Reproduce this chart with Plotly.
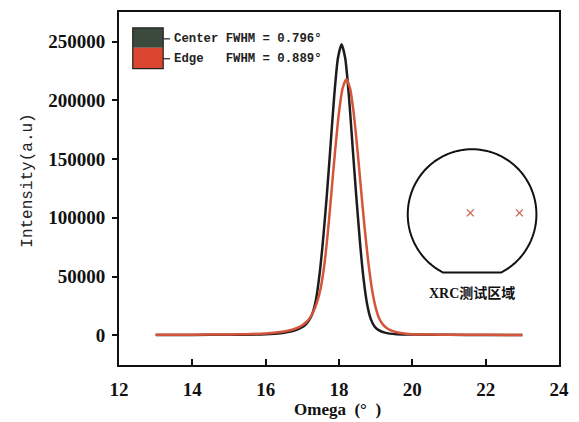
import numpy as np
import plotly.graph_objects as go

# ---- data ----
center_x = [13.00, 14.00, 15.00, 15.50, 16.00, 16.40, 16.60, 16.80, 16.94, 17.07, 17.17, 17.27,
            17.37, 17.47, 17.57, 17.67, 17.77, 17.87, 17.97, 18.07, 18.17, 18.27, 18.37, 18.47,
            18.57, 18.67, 18.77, 18.87, 18.97, 19.07, 19.27, 19.57, 20.00, 21.00, 22.00, 23.00]
center_y = [200, 250, 350, 450, 800, 1600, 2600, 4200, 6000, 8500, 12000, 18000,
            30000, 52000, 83000, 120000, 162000, 204000, 236000, 248000, 236000, 204000, 161000, 119000,
            80000, 48000, 26000, 13500, 7500, 4500, 2000, 900, 500, 300, 250, 200]

edge_x = [13.0, 14.0, 15.0, 15.5, 16.0, 16.4, 16.6, 16.8, 17.0, 17.1, 17.2, 17.3, 17.4, 17.5,
          17.6, 17.7, 17.8, 17.9, 18.0, 18.1, 18.2, 18.3, 18.4, 18.5, 18.6, 18.7, 18.8, 18.9,
          19.0, 19.1, 19.2, 19.3, 19.4, 19.6, 19.9, 20.5, 21.0, 22.0, 23.0]
edge_y = [300, 400, 600, 900, 1500, 2700, 3800, 5500, 8500, 11000, 14500, 20000, 28000, 40000,
          60000, 89000, 124000, 159000, 190000, 210500, 218000, 210500, 189500, 159000, 124500, 91000, 62000, 39000,
          23500, 14000, 9000, 6200, 4300, 2300, 1100, 500, 350, 300, 250]

series_names = ["Center", "Edge"]
fwhm_values = ["0.796°", "0.889°"]
x_ticks = [12, 14, 16, 18, 20, 22, 24]
y_ticks = [0, 50000, 100000, 150000, 200000, 250000]

# ---- layout geometry (page pixels; body margin removed in post_script) ----
W, H = 579, 422
L, R, T, B = 119, 12, 10, 57
PW, PH = W - L - R, H - T - B

def px(x):
    return (x - L) / PW

def py(y):
    return (H - B - y) / PH

BLACK = "#1c1c1c"
RED = "#d4553a"

fig = go.Figure()
fig.add_trace(go.Scatter(x=center_x, y=center_y, mode="lines", name=series_names[0],
                         line=dict(color=BLACK, width=2.5, shape="spline", smoothing=0.6)))
fig.add_trace(go.Scatter(x=edge_x, y=edge_y, mode="lines", name=series_names[1],
                         line=dict(color=RED, width=2.5, shape="spline", smoothing=0.6)))

shapes = []
# legend box
shapes.append(dict(type="rect", xref="paper", yref="paper", x0=px(133), x1=px(164), y0=py(46), y1=py(26),
                   fillcolor="#3b4a3d", line=dict(width=0)))
shapes.append(dict(type="rect", xref="paper", yref="paper", x0=px(133), x1=px(164), y0=py(67), y1=py(46),
                   fillcolor="#dc4630", line=dict(width=0)))
shapes.append(dict(type="rect", xref="paper", yref="paper", x0=px(133), x1=px(164), y0=py(67), y1=py(26),
                   fillcolor="rgba(0,0,0,0)", line=dict(color="#222", width=1.2)))
for yy in (37, 57):
    shapes.append(dict(type="line", xref="paper", yref="paper", x0=px(164), x1=px(171), y0=py(yy), y1=py(yy),
                       line=dict(color="#222", width=1.2)))

# wafer outline with flat
cx, cy, r = 478.5, 213.5, 65.5
flat_y = 272.0
half = np.sqrt(r**2 - (flat_y - cy)**2)
a0 = np.arctan2(flat_y - cy, half)
angles = np.linspace(np.pi - a0, 2 * np.pi + a0, 240)
pts = [(cx + r * np.cos(a), cy + r * np.sin(a)) for a in angles]
path = "M " + " L ".join(f"{px(x):.5f},{py(y):.5f}" for x, y in pts) + " Z"
shapes.append(dict(type="path", xref="paper", yref="paper", path=path,
                   line=dict(color="#111", width=2), fillcolor="rgba(0,0,0,0)"))
# red crosses
for mx in (476.7, 526.7):
    my, s = 212.0, 3.5
    for dx in (-s, s):
        shapes.append(dict(type="line", xref="paper", yref="paper",
                           x0=px(mx - s), x1=px(mx + s), y0=py(my - dx), y1=py(my + dx),
                           line=dict(color="#d0604a", width=1.3)))

annotations = []
labels = [f"{series_names[0]} FWHM = {fwhm_values[0]}", f"{series_names[1]}   FWHM = {fwhm_values[1]}"]
for lab, yy in zip(labels, (37, 57)):
    annotations.append(dict(text=lab, xref="paper", yref="paper", x=px(173), y=py(yy), xanchor="left",
                            yanchor="middle", showarrow=False,
                            font=dict(family="Liberation Mono", size=12.3, color="#222", weight="bold")))
annotations.append(dict(text="XRC测试区域", xref="paper", yref="paper", x=px(478), y=py(293),
                        xanchor="center", yanchor="middle", showarrow=False,
                        font=dict(family="Liberation Serif, Noto Sans CJK SC", size=14, color="#111", weight="bold")))
annotations.append(dict(text="Omega  (°  )", xref="paper", yref="paper", x=px(341), y=py(410),
                        xanchor="center", yanchor="middle", showarrow=False,
                        font=dict(family="Liberation Serif", size=17, color="#111", weight="bold")))
annotations.append(dict(text="Intensity(a.u)", xref="paper", yref="paper", x=px(26), y=py(180),
                        xanchor="center", yanchor="middle", showarrow=False, textangle=-90,
                        font=dict(family="Liberation Mono", size=16, color="#222")))

tickfont = dict(family="Liberation Serif", size=19, color="#111", weight="bold")
fig.update_layout(
    width=W, height=H, autosize=False, margin=dict(l=L, r=R, t=T, b=B),
    paper_bgcolor="white", plot_bgcolor="white", showlegend=False,
    shapes=shapes, annotations=annotations,
    xaxis=dict(range=[12, 24], tickvals=x_ticks, ticks="inside", ticklen=6, tickwidth=1.5,
               tickcolor="#111", showline=True, linecolor="#111", linewidth=2, mirror=True,
               showgrid=False, zeroline=False, tickfont=tickfont, ticklabelstandoff=6,
               ticklabeloverflow="allow"),
    yaxis=dict(range=[-25400, 275400], tickvals=y_ticks, tickformat="d", ticks="outside", ticklen=5,
               tickwidth=1.5, tickcolor="#111", showline=True, linecolor="#111", linewidth=2, mirror=True,
               showgrid=False, zeroline=False, tickfont=tickfont, ticklabelstandoff=3),
)

fig.write_html("out.html",
               config={"responsive": False, "displayModeBar": False},
               post_script="document.body.style.margin='0px';document.body.style.overflow='hidden';")
